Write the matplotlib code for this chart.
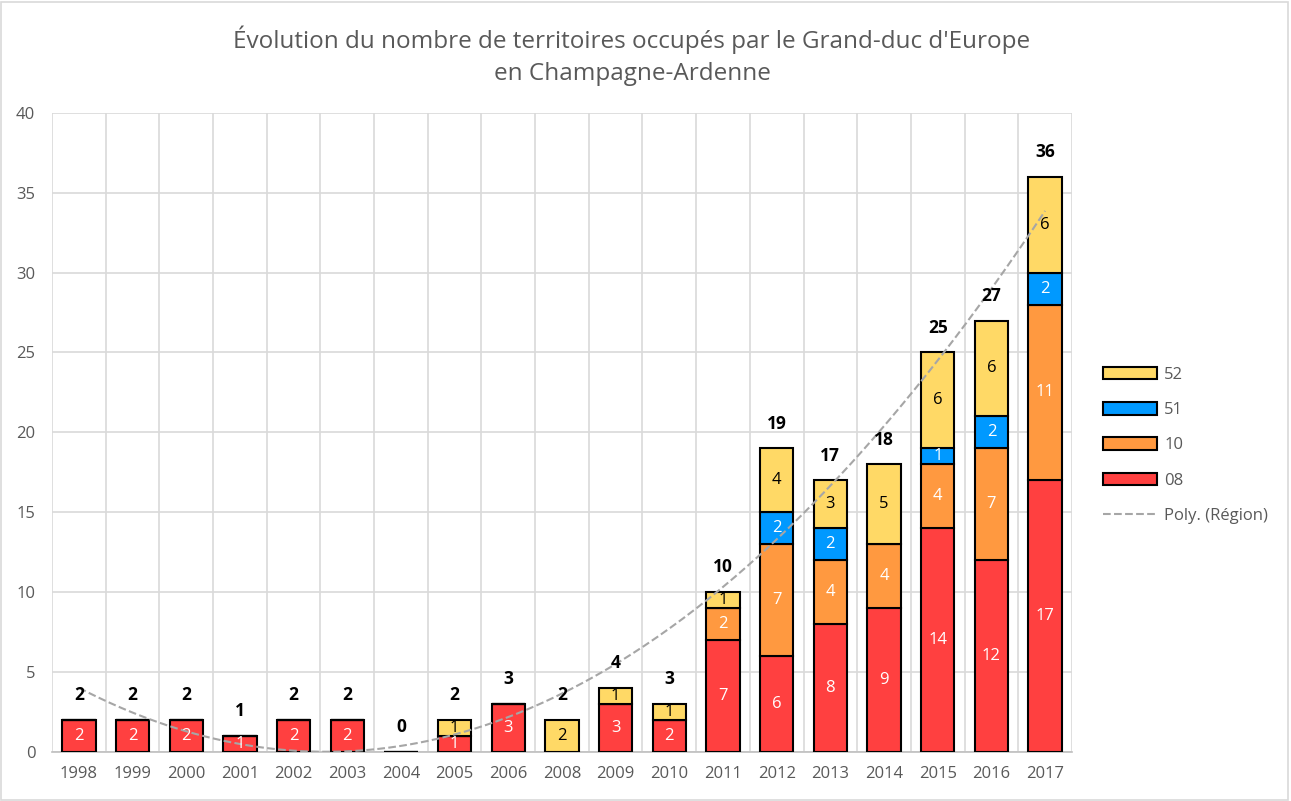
import numpy as np
import matplotlib.pyplot as plt
from matplotlib.patches import Rectangle

plt.rcParams['font.family'] = ['Open Sans', 'DejaVu Sans']

annees = ['1998', '1999', '2000', '2001', '2002', '2003', '2004', '2005', '2006', '2008',
          '2009', '2010', '2011', '2012', '2013', '2014', '2015', '2016', '2017']
d08 = [2, 2, 2, 1, 2, 2, 0, 1, 3, 0, 3, 2, 7, 6, 8, 9, 14, 12, 17]
d10 = [0, 0, 0, 0, 0, 0, 0, 0, 0, 0, 0, 0, 2, 7, 4, 4, 4, 7, 11]
d51 = [0, 0, 0, 0, 0, 0, 0, 0, 0, 0, 0, 0, 0, 2, 2, 0, 1, 2, 2]
d52 = [0, 0, 0, 0, 0, 0, 0, 1, 0, 2, 1, 1, 1, 4, 3, 5, 6, 6, 6]

series = [('08', d08, '#FF4040', 'white'),
          ('10', d10, '#FF9940', 'white'),
          ('51', d51, '#0099FF', 'white'),
          ('52', d52, '#FFD966', 'black')]

x = np.arange(len(annees))
region = np.array(d08) + np.array(d10) + np.array(d51) + np.array(d52)

fig = plt.figure(figsize=(12.91, 8.01), dpi=100)
ax = fig.add_axes([0.0403, 0.0612, 0.79, 0.798])

bas = np.zeros(len(annees))
handles = {}
for nom, vals, coul, tcoul in series:
    vals = np.array(vals)
    barres = ax.bar(x, vals, 0.62, bottom=bas, color=coul, edgecolor='black',
                    linewidth=1.5, label=nom, zorder=3)
    handles[nom] = barres
    for i, v in enumerate(vals):
        if v > 0:
            ax.text(x[i], bas[i] + v / 2, str(v), ha='center', va='center',
                    color=tcoul, fontsize=12, zorder=5)
    bas = bas + vals

for i, t in enumerate(region):
    ax.text(x[i], t + 1.55, str(t), ha='center', va='center', fontsize=12.5,
            fontweight='bold', color='black', zorder=5)

# courbe de tendance polynomiale (ordre 2) comme dans Excel
coef = np.polyfit(x + 1, region, 2)
xs = np.linspace(0, len(annees) - 1, 300)
tendance, = ax.plot(xs, np.polyval(coef, xs + 1), '--', color='#A6A6A6',
                    linewidth=1.5, zorder=4, label='Poly. (Région)')

ax.set_xlim(-0.5, len(annees) - 0.5)
ax.set_ylim(0, 40)
ax.set_yticks(range(0, 41, 5))
ax.set_xticks(x)
ax.set_xticklabels(annees)
ax.set_xticks(np.arange(-0.5, len(annees), 1), minor=True)
ax.grid(False)
ax.yaxis.grid(True, color='#D9D9D9', linewidth=1.2, zorder=0)
ax.xaxis.grid(True, which='minor', color='#D9D9D9', linewidth=1.2, zorder=0)
ax.tick_params(axis='both', which='both', length=0, labelsize=12, colors='#595959')
ax.tick_params(axis='x', pad=10)
ax.tick_params(axis='y', pad=12)
for s in ['top', 'right', 'left']:
    ax.spines[s].set_visible(False)
ax.spines['bottom'].set_color('#BFBFBF')
ax.spines['bottom'].set_linewidth(1.2)

fig.text(632 / 1291, 1 - 56 / 801,
         "Évolution du nombre de territoires occupés par le Grand-duc d'Europe\nen Champagne-Ardenne",
         ha='center', va='center', fontsize=17.5, color='#595959', linespacing=1.45)

leg = fig.legend([handles['52'], handles['51'], handles['10'], handles['08'], tendance],
                 ['52', '51', '10', '08', 'Poly. (Région)'],
                 loc='center left', bbox_to_anchor=(0.843, 0.444), frameon=False,
                 fontsize=12, labelcolor='#595959', handlelength=3.2,
                 handleheight=0.8, handletextpad=0.45, labelspacing=1.15)

fig.patches.append(Rectangle((0.001, 0.001), 0.997, 0.997, transform=fig.transFigure,
                             fill=False, edgecolor='#D9D9D9', linewidth=1.2))

fig.savefig('out.png', dpi=100)
